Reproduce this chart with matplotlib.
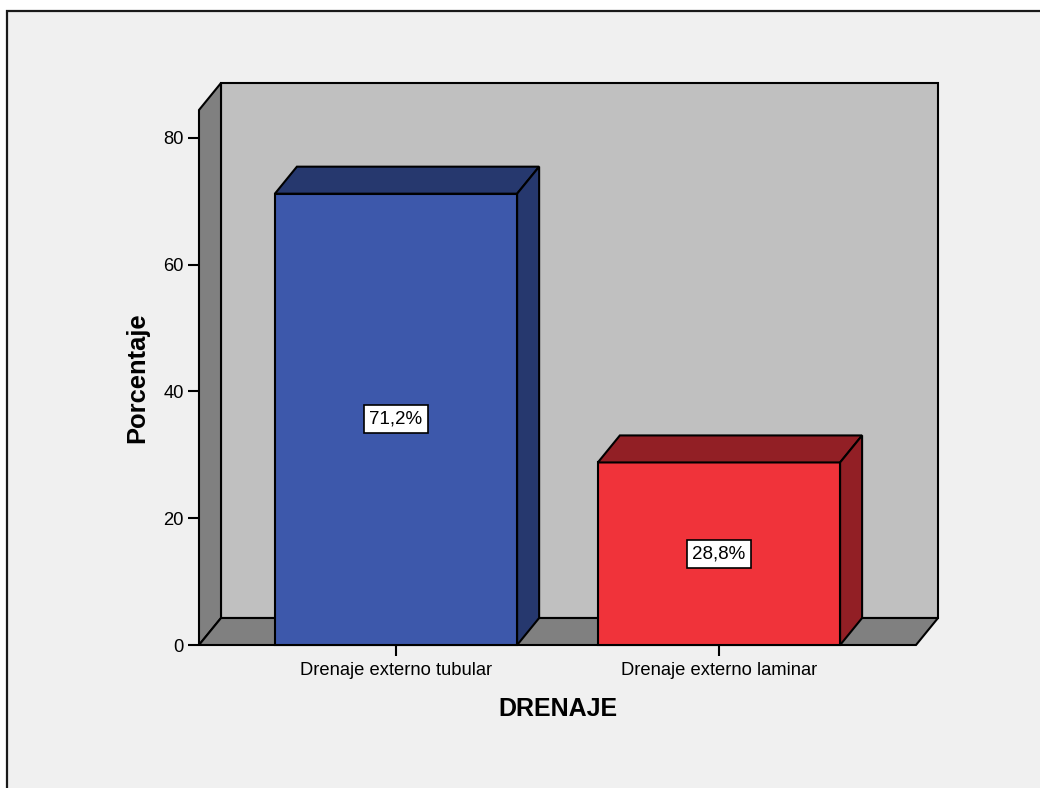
import matplotlib
matplotlib.use("Agg")
import matplotlib.pyplot as plt
from matplotlib.patches import Polygon, Rectangle

plt.rcParams['font.family'] = ['Liberation Sans', 'DejaVu Sans']

# Data
categories = ["Drenaje externo tubular", "Drenaje externo laminar"]
percentages = [71.2, 28.8]
value_labels = ["71,2%", "28,8%"]
yticks = [0, 20, 40, 60, 80]

front_colors = ["#3d58ab", "#f0333a"]
dark_colors = ["#26386e", "#921f25"]

fig = plt.figure(figsize=(10.4, 7.88), dpi=100, facecolor="white")

# outer frame (only top and left edges visible)
fig.patches.append(Rectangle((7 / 1040, -0.1), 1.2, (788 - 11) / 788 + 0.1,
                             transform=fig.transFigure, facecolor="#f0f0f0",
                             edgecolor="#1a1a1a", linewidth=1.6, zorder=-10))

ax = fig.add_axes([199 / 1040, (788 - 645) / 788, 717 / 1040, 535 / 788])
ax.patch.set_visible(False)
x0, x1 = -0.61, 1.61
ymax = 84.4
ax.set_xlim(x0, x1)
ax.set_ylim(0, ymax)

# depth offset in data units (22 px right, 27 px up)
dx = 22 * (x1 - x0) / 717
dy = 27 * ymax / 535

lw = 1.5
def poly(pts, fc, z):
    ax.add_patch(Polygon(pts, closed=True, facecolor=fc, edgecolor="black",
                         linewidth=lw, joinstyle="miter", clip_on=False, zorder=z))

# walls and floor
poly([(x0 + dx, dy), (x1 + dx, dy), (x1 + dx, ymax + dy), (x0 + dx, ymax + dy)], "#c0c0c0", 1)
poly([(x0, 0), (x0, ymax), (x0 + dx, ymax + dy), (x0 + dx, dy)], "#808080", 2)
poly([(x0, 0), (x1, 0), (x1 + dx, dy), (x0 + dx, dy)], "#808080", 2)

# bars
w = 0.75
for i, v in enumerate(percentages):
    l, r = i - w / 2, i + w / 2
    poly([(l, 0), (r, 0), (r, v), (l, v)], front_colors[i], 3)
    poly([(l, v), (r, v), (r + dx, v + dy), (l + dx, v + dy)], dark_colors[i], 3)
    poly([(r, 0), (r + dx, dy), (r + dx, v + dy), (r, v)], dark_colors[i], 3)
    ax.text(i, v / 2, value_labels[i], ha="center", va="center", fontsize=13.5,
            zorder=5, bbox=dict(boxstyle="square,pad=0.3", facecolor="white",
                                edgecolor="black", linewidth=1.2))

for s in ax.spines.values():
    s.set_visible(False)

ax.set_xticks(range(len(categories)))
ax.set_xticklabels(categories, fontsize=13.2)
ax.set_yticks(yticks)
ax.set_yticklabels([str(t) for t in yticks], fontsize=13.2)
ax.tick_params(axis="both", length=8, width=1.5, color="black", pad=3)
ax.tick_params(axis="x", pad=4)

ax.set_xlabel("DRENAJE", fontsize=18, fontweight="bold", labelpad=13)
ax.set_ylabel("Porcentaje", fontsize=18.4, fontweight="bold", labelpad=10)

fig.savefig("out.png", dpi=100, facecolor=fig.get_facecolor())
